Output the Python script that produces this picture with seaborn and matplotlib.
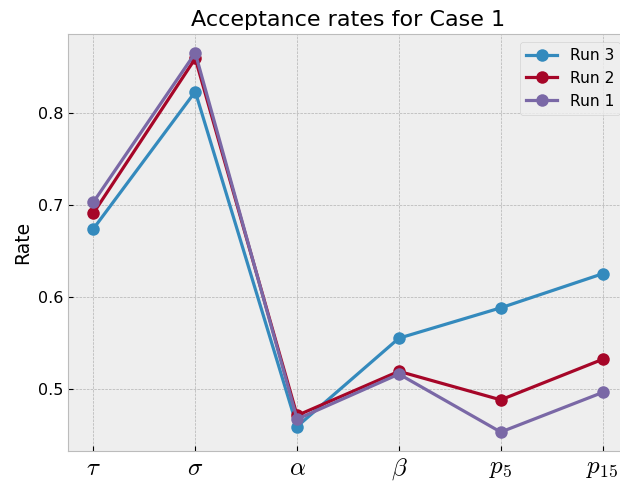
import pandas as pd
import matplotlib
matplotlib.use("Agg")
import matplotlib.pyplot as plt
import seaborn as sns

#%% data
params = [r'$\tau$', r'$\sigma$', r'$\alpha$', r'$\beta$', r'$p_5$', r'$p_{15}$']
run_3 = [0.674, 0.823, 0.459, 0.555, 0.588, 0.625]
run_2 = [0.691, 0.859, 0.471, 0.519, 0.488, 0.532]
run_1 = [0.703, 0.865, 0.467, 0.516, 0.453, 0.496]

runs = {"Run 3": run_3, "Run 2": run_2, "Run 1": run_1}
rows = []
for name, vals in runs.items():
    for i, v in enumerate(vals):
        rows.append({"pos": i, "Rate": v, "Run": name})
rates_df = pd.DataFrame(rows)

#%% plot
plt.style.use('bmh')
fig = plt.figure(figsize=(6.2, 4.82), dpi=100)
ax = fig.add_axes([68 / 620, 1 - 451 / 482, 560 / 620, (451 - 34) / 482])

sns.lineplot(data=rates_df, x="pos", y="Rate", hue="Run",
             hue_order=["Run 3", "Run 2", "Run 1"],
             palette=["#348ABD", "#A60628", "#7A68A6"],
             marker="o", markersize=9, markeredgewidth=0,
             linewidth=2.3, ax=ax)

ax.set_xticks(range(len(params)))
ax.set_xticklabels(params, fontsize=18)
ax.tick_params(axis="y", labelsize=11.5)
ax.set_xlabel("")
ax.set_ylabel("Rate", fontsize=13.5)
ax.set_title("Acceptance rates for Case 1", fontsize=16)
ax.legend(loc="upper right", fontsize=11.2)

fig.savefig("out.png", dpi=100)
